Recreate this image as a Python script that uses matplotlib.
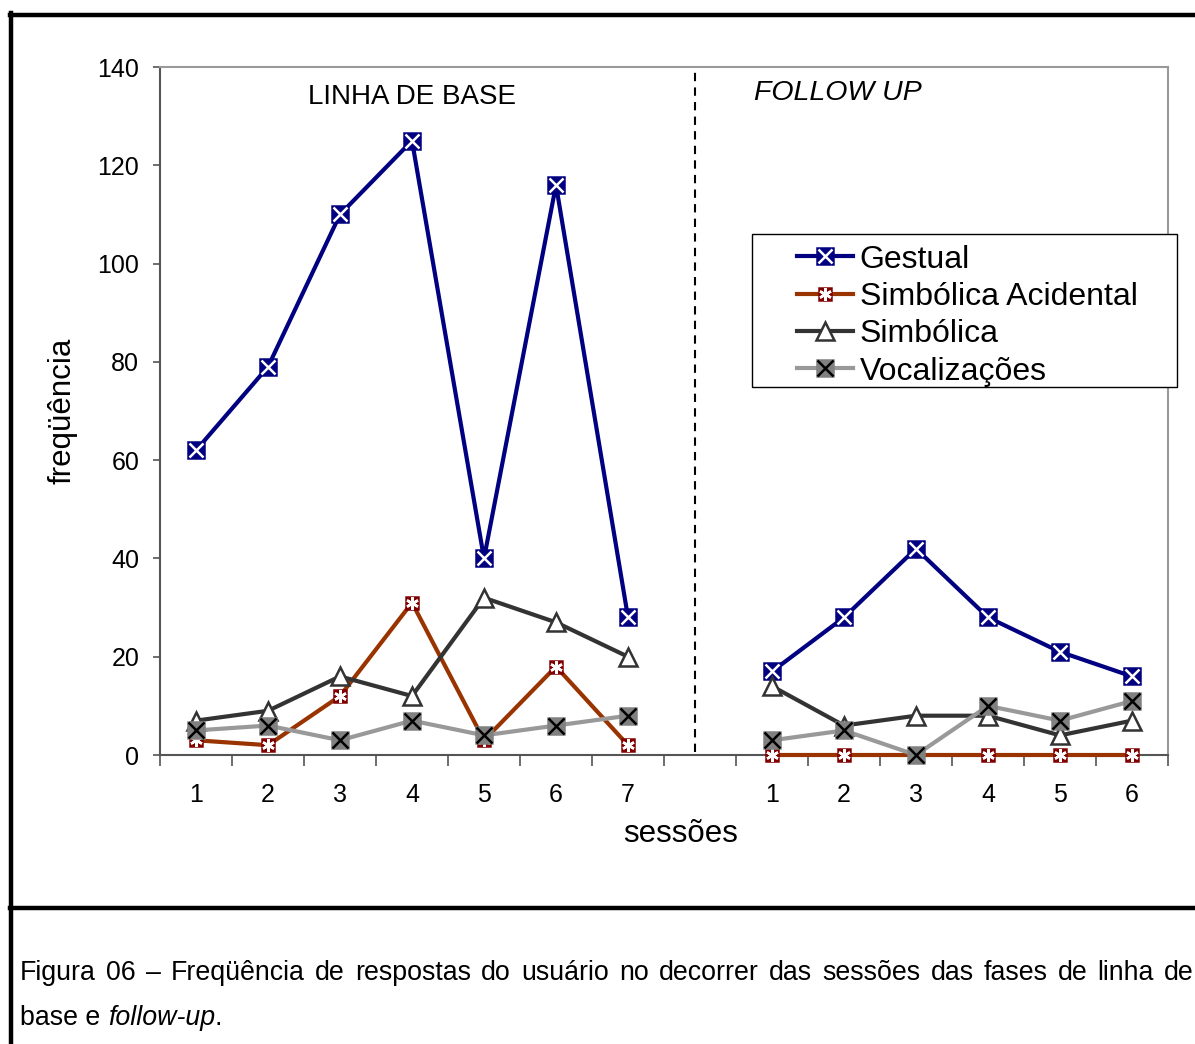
import matplotlib.pyplot as plt
from matplotlib.lines import Line2D
from matplotlib.patches import Rectangle

plt.rcParams['font.family'] = ['Liberation Sans', 'DejaVu Sans']

# sessions (baseline, then follow-up after an empty slot)
sessoes_base = ['1', '2', '3', '4', '5', '6', '7']
sessoes_follow = ['1', '2', '3', '4', '5', '6']

gestual_base = [62, 79, 110, 125, 40, 116, 28]
gestual_follow = [17, 28, 42, 28, 21, 16]
acidental_base = [3, 2, 12, 31, 3, 18, 2]
acidental_follow = [0, 0, 0, 0, 0, 0]
simbolica_base = [7, 9, 16, 12, 32, 27, 20]
simbolica_follow = [14, 6, 8, 8, 4, 7]
vocal_base = [5, 6, 3, 7, 4, 6, 8]
vocal_follow = [3, 5, 0, 10, 7, 11]

series_names = ['Gestual', 'Simbólica Acidental', 'Simbólica', 'Vocalizações']

xb = list(range(len(sessoes_base)))
xf = list(range(len(sessoes_base) + 1, len(sessoes_base) + 1 + len(sessoes_follow)))

fig = plt.figure(figsize=(11.95, 10.44), dpi=100)
ax = fig.add_axes([0.1339, 0.2768, 0.8435, 0.659])

# style: line color, base marker, size, face, edge, overlay marker, overlay color, overlay size
styles = [
    dict(c='#000080', m='s', ms=12, fc='#000080', ec='#000080', om='x', oc='white', oms=10),
    dict(c='#993300', m='s', ms=9, fc='#800000', ec='#800000', om=(6, 2, 0), oc='white', oms=9),
    dict(c='#333333', m='^', ms=13, fc='white', ec='#333333', om=None, oc=None, oms=0),
    dict(c='#999999', m='s', ms=12, fc='#808080', ec='#808080', om='x', oc='black', oms=11),
]
data = [
    (gestual_base, gestual_follow),
    (acidental_base, acidental_follow),
    (simbolica_base, simbolica_follow),
    (vocal_base, vocal_follow),
]

LW = 3.0
handles = []
for i, (st, (yb, yf)) in enumerate(zip(styles, data)):
    z = 3 + i
    for xs, ys in ((xb, yb), (xf, yf)):
        ax.plot(xs, ys, color=st['c'], lw=LW, marker=st['m'], ms=st['ms'],
                mfc=st['fc'], mec=st['ec'], mew=1.8, zorder=z, clip_on=False)
        if st['om'] is not None:
            ax.plot(xs, ys, ls='none', marker=st['om'], ms=st['oms'],
                    mec=st['oc'], mew=1.8, zorder=z + 0.5, clip_on=False)
    h1 = Line2D([], [], color=st['c'], lw=LW, marker=st['m'], ms=st['ms'],
                mfc=st['fc'], mec=st['ec'], mew=1.8)
    if st['om'] is not None:
        h2 = Line2D([], [], ls='none', marker=st['om'], ms=st['oms'], mec=st['oc'], mew=1.8)
        handles.append((h1, h2))
    else:
        handles.append(h1)

ax.set_xlim(-0.5, len(xb) + len(xf) + 0.5)
ax.set_ylim(0, 140)
ax.set_yticks(range(0, 141, 20))
ax.tick_params(axis='y', labelsize=18, length=5, width=1.2, color='#555555', pad=10)

n = len(xb) + 1 + len(xf)
ax.set_xticks([k - 0.5 for k in range(n + 1)])
ax.set_xticklabels([])
ax.tick_params(axis='x', which='major', length=8, width=1.2, color='#555555')
ax.set_xticks(xb + [len(xb)] + xf, minor=True)
ax.set_xticklabels(sessoes_base + [''] + sessoes_follow, minor=True)
ax.tick_params(axis='x', which='minor', length=0, labelsize=18, pad=20)

for s in ['left', 'bottom']:
    ax.spines[s].set_color('#555555')
    ax.spines[s].set_linewidth(1.5)
for s in ['top', 'right']:
    ax.spines[s].set_color('#999999')
    ax.spines[s].set_linewidth(1.5)

ax.set_xlabel('sessões', fontsize=22.5)
ax.xaxis.set_label_coords(0.516, -0.093)
ax.set_ylabel('freqüência', fontsize=22.5, labelpad=14)

ax.axvline(6.93, ymin=0.005, ymax=0.995, color='black', lw=1.5, ls=(0, (4, 3)))

ax.text(3.0, 134.0, 'LINHA DE BASE', fontsize=20, ha='center', va='center')
ax.text(7.75, 134.7, 'FOLLOW UP', fontsize=20.5, style='italic', ha='left', va='center')

ax.add_patch(Rectangle((0.587, 0.535), 0.422, 0.222, transform=ax.transAxes,
                       fill=True, fc='white', ec='black', lw=1.0, clip_on=False, zorder=8))
leg = ax.legend(handles, series_names, loc='upper left', bbox_to_anchor=(0.627, 0.749),
                frameon=False, fontsize=23, handlelength=1.75, handletextpad=0.22,
                labelspacing=0.23, borderpad=0.15, borderaxespad=0)
leg.set_zorder(9)

# page frame
for (x0, x1, y0, y1) in [(0.0084, 1.0, 0.9856, 0.9856),
                         (0.0092, 0.0092, 0.0, 0.9875),
                         (0.0084, 1.0, 0.1303, 0.1303)]:
    fig.add_artist(Line2D([x0, x1], [y0, y1], transform=fig.transFigure,
                          color='black', lw=3.2))

# caption, first line justified
line1 = 'Figura 06 – Freqüência de respostas do usuário no decorrer das sessões das fases de linha de'.split()
renderer = fig.canvas.get_renderer()
texts = [fig.text(0, 0.068, w, fontsize=19.3, va='center') for w in line1]
widths = [t.get_window_extent(renderer).width / fig.bbox.width for t in texts]
left, right = 20 / 1195, 1194 / 1195
gap = (right - left - sum(widths)) / (len(texts) - 1)
xpos = left
for t, w in zip(texts, widths):
    t.set_x(xpos)
    xpos += w + gap

t1 = fig.text(left, 0.025, 'base e ', fontsize=19.3, va='center')
w1 = t1.get_window_extent(renderer).width / fig.bbox.width
t2 = fig.text(left + w1, 0.025, 'follow-up', fontsize=19.3, va='center', style='italic')
w2 = t2.get_window_extent(renderer).width / fig.bbox.width
fig.text(left + w1 + w2, 0.025, '.', fontsize=19.3, va='center')

fig.savefig('out.png', dpi=100)
